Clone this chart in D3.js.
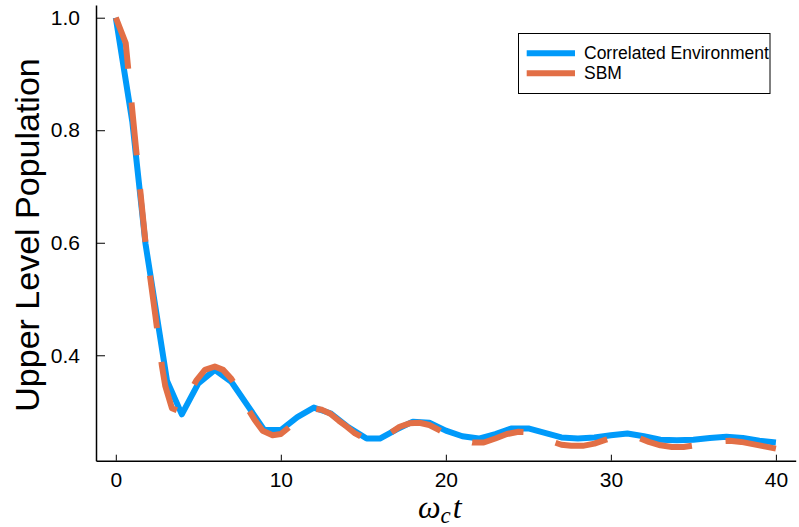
<!DOCTYPE html>
<html>
<head>
<meta charset="utf-8">
<script src="https://cdn.jsdelivr.net/npm/d3@7"></script>
<style>
  html, body { margin: 0; padding: 0; background: #fff; }
  svg { display: block; }
</style>
</head>
<body>
<svg id="chart" width="799" height="527"></svg>
<script>
// ---- data ----
const seriesNames = ["Correlated Environment", "SBM"];
const seriesColors = ["#009AFA", "#E26F46"];

const corrT = [0, 1.0, 1.8, 3.1, 4.0, 5.0, 6.0, 7.0, 8.0, 9.0, 10.0, 11.0, 12.0, 13.0, 14.1, 15.2, 16.0, 17.0, 18.0, 19.0, 20.0, 21.0, 22.0, 23.0, 24.0, 25.0, 26.0, 27.0, 28.0, 29.0, 30.0, 31.0, 32.0, 33.0, 34.0, 35.0, 36.0, 37.0, 38.0, 39.0, 40.0];
const corrP = [1.0, 0.815, 0.598, 0.355, 0.295, 0.350, 0.374, 0.353, 0.310, 0.267, 0.267, 0.290, 0.307, 0.297, 0.272, 0.252, 0.252, 0.268, 0.282, 0.280, 0.266, 0.256, 0.252, 0.260, 0.270, 0.270, 0.262, 0.254, 0.252, 0.254, 0.258, 0.261, 0.256, 0.250, 0.249, 0.250, 0.253, 0.255, 0.253, 0.248, 0.245];

const sbmT = [0, 0.6, 1.2, 1.8, 2.4, 2.8, 3.0, 3.4, 3.9, 4.4, 4.9, 5.4, 6.0, 6.5, 7.0, 7.5, 8.0, 8.4, 8.9, 9.5, 10.0, 10.5, 11.0, 11.5, 12.0, 12.5, 13.0, 13.5, 14.0, 14.5, 15.2, 15.7, 16.2, 16.7, 17.2, 17.8, 18.4, 19.0, 19.6, 20.3, 21.0, 21.6, 22.3, 23.0, 23.7, 24.4, 25.0, 25.6, 26.3, 27.0, 27.6, 28.3, 29.0, 29.7, 30.4, 31.0, 31.6, 32.3, 33.0, 33.7, 34.4, 35.1, 35.8, 36.5, 37.2, 37.9, 38.6, 39.3, 40.0];
const sbmP = [1.0, 0.955, 0.775, 0.600, 0.470, 0.380, 0.345, 0.306, 0.300, 0.330, 0.356, 0.374, 0.380, 0.374, 0.358, 0.335, 0.305, 0.286, 0.266, 0.258, 0.260, 0.272, 0.287, 0.298, 0.305, 0.303, 0.296, 0.284, 0.273, 0.261, 0.250, 0.248, 0.252, 0.263, 0.273, 0.279, 0.280, 0.276, 0.267, 0.256, 0.249, 0.245, 0.245, 0.252, 0.260, 0.264, 0.263, 0.257, 0.248, 0.241, 0.239, 0.239, 0.243, 0.250, 0.256, 0.258, 0.254, 0.246, 0.240, 0.237, 0.237, 0.240, 0.244, 0.247, 0.248, 0.246, 0.242, 0.238, 0.234];

const xTicks = [0, 10, 20, 30, 40];
const yTicks = [0.4, 0.6, 0.8, 1.0];
const xDomain = [-1.2, 41.2];
const yDomain = [0.2126, 1.0226];

// ---- layout ----
const svg = d3.select("#chart");
const L = 96, R = 795.7, T = 5, B = 460.7;

const x = d3.scaleLinear().domain(xDomain).range([L, R]);
const y = d3.scaleLinear().domain(yDomain).range([B, T]);

const font = "'Liberation Sans', Arial, Helvetica, sans-serif";
const axisColor = "#000";

// x axis
const xAxis = d3.axisBottom(x).tickValues(xTicks).tickFormat(d3.format("d")).tickSizeInner(-6).tickSizeOuter(0).tickPadding(11);
const gx = svg.append("g").attr("transform", `translate(0,${B})`).call(xAxis);
gx.select(".domain").attr("stroke", axisColor).attr("stroke-width", 1.5);
gx.selectAll(".tick line").attr("stroke", axisColor).attr("stroke-width", 1);
gx.selectAll(".tick text").attr("font-family", font).attr("font-size", 21).attr("fill", "#000");

// y axis
const yAxis = d3.axisLeft(y).tickValues(yTicks).tickFormat(d3.format(".1f")).tickSizeInner(-9).tickSizeOuter(0).tickPadding(16);
const gy = svg.append("g").attr("transform", `translate(${L},0)`).call(yAxis);
gy.select(".domain").attr("stroke", axisColor).attr("stroke-width", 1.5);
gy.selectAll(".tick line").attr("stroke", axisColor).attr("stroke-width", 1);
gy.selectAll(".tick text").attr("font-family", font).attr("font-size", 21).attr("fill", "#000");

// lines
const line = d3.line().x(d => x(d[0])).y(d => y(d[1]));
const corrData = d3.zip(corrT, corrP);
const sbmData = d3.zip(sbmT, sbmP);

svg.append("path").datum(corrData)
  .attr("d", line).attr("fill", "none")
  .attr("stroke", seriesColors[0]).attr("stroke-width", 6)
  .attr("stroke-linejoin", "round");

svg.append("path").datum(sbmData)
  .attr("d", line).attr("fill", "none")
  .attr("stroke", seriesColors[1]).attr("stroke-width", 6)
  .attr("stroke-dasharray", "53,34")
  .attr("stroke-linejoin", "round");

// y label
svg.append("text")
  .attr("transform", `translate(39,235) rotate(-90)`)
  .attr("text-anchor", "middle")
  .attr("font-family", font).attr("font-size", 34)
  .attr("fill", "#000")
  .text("Upper Level Population");

// x label  ω_c t
const xl = svg.append("text")
  .attr("x", 418).attr("y", 518)
  .attr("font-family", "'Liberation Serif', 'DejaVu Serif', serif")
  .attr("font-style", "italic")
  .attr("font-size", 32).attr("fill", "#000");
xl.append("tspan").text("ω");
xl.append("tspan").attr("font-size", 23).attr("dy", 5).text("c");
xl.append("tspan").attr("dy", -5).attr("dx", 2).text("t");

// legend
const lg = svg.append("g");
lg.append("rect").attr("x", 518.5).attr("y", 33.5).attr("width", 251.5).attr("height", 60)
  .attr("fill", "#fff").attr("stroke", "#000").attr("stroke-width", 1);
seriesNames.forEach((name, i) => {
  const yy = 53.3 + i * 20;
  lg.append("line").attr("x1", 526.7).attr("x2", 575).attr("y1", yy).attr("y2", yy)
    .attr("stroke", seriesColors[i]).attr("stroke-width", 6);
  lg.append("text").attr("x", 584).attr("y", yy + 6)
    .attr("font-family", font).attr("font-size", 17.5).attr("fill", "#000")
    .text(name);
});
</script>
</body>
</html>
